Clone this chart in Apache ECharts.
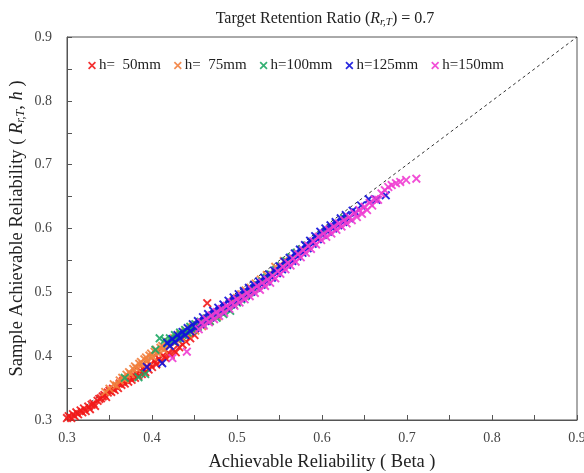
<!DOCTYPE html>
<html>
<head>
<meta charset="utf-8">
<script src="https://cdn.jsdelivr.net/npm/echarts@6/dist/echarts.min.js"></script>
<style>html,body{margin:0;padding:0;background:#fff}#c{width:584px;height:473px}</style>
</head>
<body>
<div id="c"></div>
<script>
var seriesNames = ['h=  50mm', 'h=  75mm', 'h=100mm', 'h=125mm', 'h=150mm'];
var xTicks = [0.3, 0.4, 0.5, 0.6, 0.7, 0.8, 0.9];
var yTicks = [0.3, 0.4, 0.5, 0.6, 0.7, 0.8, 0.9];
var refLine = [[0.3, 0.3], [0.9, 0.9]];

var h50 = [[0.300,0.303],[0.302,0.306],[0.305,0.303],[0.307,0.309],[0.309,0.306],[0.311,0.312],[0.313,0.309],[0.316,0.315],[0.318,0.312],[0.320,0.318],[0.322,0.314],[0.325,0.321],[0.327,0.317],[0.329,0.324],[0.331,0.326],[0.333,0.322],[0.336,0.330],[0.338,0.333],[0.340,0.334],[0.342,0.337],[0.344,0.339],[0.346,0.336],[0.348,0.343],[0.350,0.346],[0.352,0.344],[0.354,0.349],[0.356,0.347],[0.358,0.353],[0.360,0.350],[0.362,0.357],[0.364,0.355],[0.366,0.361],[0.368,0.357],[0.370,0.364],[0.372,0.360],[0.374,0.367],[0.376,0.363],[0.378,0.370],[0.380,0.366],[0.382,0.373],[0.384,0.369],[0.386,0.377],[0.388,0.372],[0.390,0.380],[0.392,0.375],[0.394,0.384],[0.396,0.379],[0.398,0.387],[0.400,0.383],[0.403,0.392],[0.405,0.387],[0.408,0.396],[0.410,0.392],[0.413,0.401],[0.416,0.397],[0.419,0.405],[0.422,0.402],[0.425,0.410],[0.428,0.406],[0.432,0.414],[0.436,0.418],[0.440,0.423],[0.445,0.428],[0.450,0.433],[0.465,0.483]];

var h75 = [[0.345,0.344],[0.350,0.349],[0.355,0.356],[0.358,0.354],[0.362,0.362],[0.365,0.366],[0.368,0.364],[0.370,0.371],[0.373,0.375],[0.375,0.372],[0.378,0.380],[0.380,0.384],[0.382,0.381],[0.385,0.388],[0.387,0.391],[0.389,0.387],[0.391,0.395],[0.393,0.398],[0.395,0.393],[0.397,0.401],[0.399,0.404],[0.401,0.399],[0.403,0.407],[0.405,0.410],[0.407,0.405],[0.410,0.413],[0.412,0.416],[0.414,0.410],[0.417,0.419],[0.419,0.422],[0.421,0.416],[0.424,0.425],[0.426,0.428],[0.428,0.422],[0.431,0.431],[0.433,0.434],[0.435,0.428],[0.438,0.437],[0.440,0.440],[0.443,0.434],[0.445,0.443],[0.448,0.446],[0.451,0.440],[0.453,0.449],[0.456,0.452],[0.459,0.447],[0.462,0.456],[0.465,0.459],[0.468,0.455],[0.471,0.463],[0.474,0.466],[0.477,0.462],[0.480,0.471],[0.484,0.474],[0.488,0.478],[0.492,0.483],[0.496,0.487],[0.500,0.491],[0.505,0.497],[0.510,0.503],[0.516,0.507],[0.522,0.514],[0.528,0.520],[0.535,0.527],[0.545,0.540],[0.555,0.549]];

var h100 = [[0.368,0.366],[0.384,0.367],[0.392,0.372],[0.404,0.410],[0.409,0.428],[0.415,0.425],[0.418,0.420],[0.421,0.428],[0.424,0.424],[0.427,0.433],[0.430,0.428],[0.433,0.437],[0.436,0.433],[0.439,0.441],[0.442,0.437],[0.445,0.446],[0.448,0.441],[0.451,0.450],[0.454,0.446],[0.457,0.454],[0.460,0.450],[0.464,0.459],[0.468,0.455],[0.472,0.464],[0.476,0.460],[0.480,0.470],[0.484,0.466],[0.488,0.475],[0.492,0.471],[0.496,0.481],[0.500,0.484],[0.505,0.489],[0.510,0.494],[0.515,0.500],[0.520,0.506],[0.525,0.511],[0.530,0.517],[0.535,0.523],[0.540,0.528],[0.546,0.535],[0.552,0.541],[0.558,0.549],[0.564,0.555],[0.570,0.562],[0.576,0.567],[0.582,0.573],[0.588,0.579],[0.594,0.585],[0.600,0.591],[0.606,0.596],[0.612,0.601],[0.626,0.616]];

var h125 = [[0.394,0.383],[0.412,0.389],[0.418,0.421],[0.421,0.416],[0.424,0.427],[0.427,0.422],[0.430,0.433],[0.433,0.428],[0.436,0.438],[0.439,0.433],[0.442,0.444],[0.445,0.439],[0.448,0.450],[0.451,0.444],[0.454,0.455],[0.457,0.450],[0.460,0.461],[0.463,0.455],[0.466,0.466],[0.469,0.461],[0.472,0.471],[0.475,0.466],[0.478,0.476],[0.481,0.471],[0.484,0.481],[0.487,0.476],[0.490,0.487],[0.493,0.481],[0.496,0.492],[0.499,0.486],[0.502,0.497],[0.505,0.491],[0.508,0.502],[0.511,0.496],[0.514,0.507],[0.517,0.501],[0.520,0.512],[0.523,0.507],[0.526,0.517],[0.529,0.512],[0.532,0.523],[0.535,0.517],[0.538,0.528],[0.541,0.523],[0.544,0.534],[0.547,0.530],[0.550,0.541],[0.553,0.536],[0.556,0.548],[0.559,0.543],[0.562,0.554],[0.565,0.549],[0.568,0.561],[0.571,0.556],[0.574,0.567],[0.577,0.562],[0.580,0.574],[0.583,0.569],[0.586,0.581],[0.589,0.576],[0.592,0.588],[0.595,0.583],[0.598,0.595],[0.601,0.590],[0.604,0.600],[0.607,0.595],[0.610,0.605],[0.613,0.600],[0.616,0.610],[0.619,0.605],[0.622,0.616],[0.625,0.610],[0.628,0.621],[0.632,0.616],[0.636,0.628],[0.640,0.625],[0.646,0.636],[0.655,0.646],[0.664,0.645],[0.675,0.652]];

var h150 = [[0.424,0.397],[0.441,0.407],[0.455,0.442],[0.458,0.453],[0.461,0.448],[0.464,0.458],[0.467,0.453],[0.470,0.464],[0.473,0.458],[0.476,0.469],[0.479,0.463],[0.482,0.474],[0.485,0.468],[0.488,0.479],[0.491,0.474],[0.494,0.484],[0.497,0.479],[0.500,0.489],[0.503,0.484],[0.506,0.494],[0.509,0.489],[0.512,0.499],[0.515,0.494],[0.518,0.504],[0.521,0.499],[0.524,0.510],[0.527,0.504],[0.530,0.515],[0.533,0.510],[0.536,0.520],[0.539,0.515],[0.542,0.526],[0.545,0.522],[0.548,0.533],[0.551,0.529],[0.554,0.540],[0.557,0.536],[0.560,0.546],[0.563,0.542],[0.566,0.553],[0.569,0.548],[0.572,0.560],[0.575,0.555],[0.578,0.566],[0.581,0.562],[0.584,0.573],[0.587,0.568],[0.590,0.580],[0.593,0.575],[0.596,0.587],[0.599,0.582],[0.602,0.592],[0.605,0.587],[0.608,0.598],[0.611,0.592],[0.614,0.603],[0.617,0.598],[0.620,0.608],[0.623,0.603],[0.626,0.613],[0.629,0.608],[0.632,0.618],[0.635,0.613],[0.638,0.624],[0.641,0.618],[0.644,0.629],[0.647,0.623],[0.650,0.634],[0.653,0.629],[0.656,0.640],[0.659,0.636],[0.662,0.646],[0.666,0.645],[0.670,0.655],[0.674,0.660],[0.678,0.665],[0.682,0.668],[0.687,0.671],[0.692,0.673],[0.699,0.676],[0.711,0.678]];

var seriesData = [h50, h75, h100, h125, h150];
var colors = ['#f21a1a', '#f2803e', '#1fa865', '#1212dc', '#f03cd2'];

var xShape = 'path://M0,1.5L1.5,0L5,3.5L8.5,0L10,1.5L6.5,5L10,8.5L8.5,10L5,6.5L1.5,10L0,8.5L3.5,5Z';
var serif = '"Liberation Serif", "DejaVu Serif", serif';

var chart = echarts.init(document.getElementById('c'), null, {renderer: 'canvas'});

var series = [{
  type: 'line',
  data: refLine,
  symbol: 'none',
  silent: true,
  z: 1,
  lineStyle: {color: '#333', width: 1, type: [3, 3]}
}];
seriesData.forEach(function (d, i) {
  series.push({
    name: seriesNames[i],
    type: 'scatter',
    data: d,
    symbol: xShape,
    symbolSize: 9,
    z: 2 + i,
    itemStyle: {color: colors[i], opacity: 0.9}
  });
});

function axisCommon() {
  return {
    type: 'value',
    min: 0.3, max: 0.9, interval: 0.1,
    nameMoveOverlap: false,
    axisLine: {show: true, lineStyle: {color: '#555', width: 1}},
    axisTick: {show: true, inside: true, length: 5, lineStyle: {color: '#555'}},
    minorTick: {show: true, splitNumber: 2, length: 5, lineStyle: {color: '#555'}},
    splitLine: {show: false},
    axisLabel: {color: '#444', fontFamily: serif, fontSize: 14,
      formatter: function (v) { return v.toFixed(1); }}
  };
}

var xAxis = axisCommon();
xAxis.name = 'Achievable Reliability ( Beta )';
xAxis.nameLocation = 'middle';
xAxis.nameGap = 33;
xAxis.nameTextStyle = {fontFamily: serif, fontSize: 18.5, color: '#222'};
xAxis.axisLabel.margin = 11;

var yAxis = axisCommon();
yAxis.name = 'Sample Achievable Reliability ( {i|R}{s|r,T}{n|,} {i|h} )';
yAxis.nameLocation = 'middle';
yAxis.nameGap = 40;
yAxis.nameTextStyle = {fontFamily: serif, fontSize: 18.5, color: '#222',
  rich: {
    i: {fontFamily: serif, fontSize: 18.5, fontStyle: 'italic', color: '#222'},
    s: {fontFamily: serif, fontSize: 12, fontStyle: 'italic', color: '#222', verticalAlign: 'bottom', padding: [8, 0, 0, 0]},
    n: {fontFamily: serif, fontSize: 18.5, color: '#222'}
  }};
yAxis.axisLabel.margin = 15;

chart.setOption({
  animation: false,
  backgroundColor: '#fff',
  title: {
    text: 'Target Retention Ratio ({i|R}{s|r,T}) = 0.7',
    left: 320, textAlign: 'center', top: 4,
    textStyle: {fontFamily: serif, fontSize: 16, fontWeight: 'normal', color: '#222',
      rich: {
        i: {fontFamily: serif, fontSize: 16, fontStyle: 'italic', color: '#222'},
        s: {fontFamily: serif, fontSize: 11, fontStyle: 'italic', color: '#222', verticalAlign: 'bottom', padding: [8, 0, 0, 0]}
      }}
  },
  legend: {
    data: seriesNames,
    left: 83, top: 53,
    icon: xShape,
    itemWidth: 8, itemHeight: 8, itemGap: 13,
    textStyle: {fontFamily: serif, fontSize: 15, color: '#222', padding: [0, 0, 0, -2]}
  },
  grid: {left: 67, right: 7, top: 37, bottom: 53, show: true, borderColor: '#555', borderWidth: 1,
    containLabel: false, outerBoundsMode: 'none'},
  xAxis: xAxis,
  yAxis: yAxis,
  series: series
});
</script>
</body>
</html>
